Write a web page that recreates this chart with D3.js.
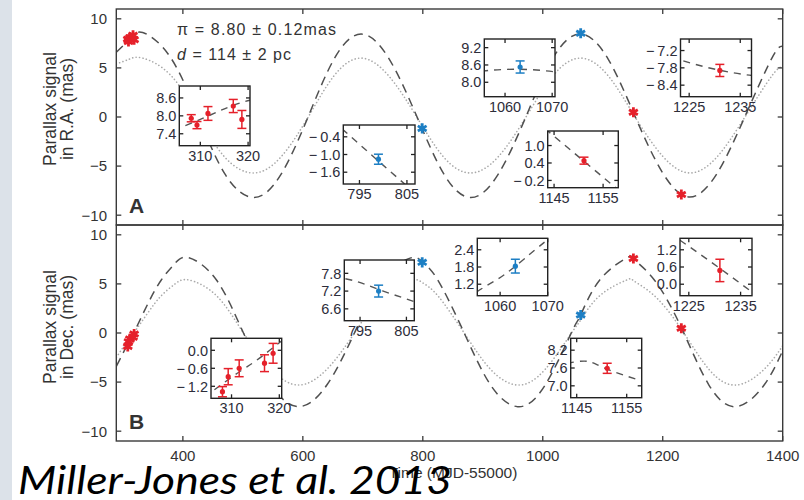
<!DOCTYPE html>
<html><head><meta charset="utf-8">
<script src="https://cdn.jsdelivr.net/npm/d3@7"></script>
<style>
html,body{margin:0;padding:0;background:#fff;}
svg{display:block;}
</style></head><body>
<svg id="chart" width="804" height="500"></svg>
<script>
// ---- Astrometric epochs (MJD - 55000) and measured parallax offsets (mas) ----
const obsMJD     = [308.1, 309.3, 311.6, 316.9, 318.7, 799.0, 1063.2, 1151.1, 1231.0];
const obsRA      = [7.92, 7.69, 8.08, 8.33, 7.88, -1.16, 8.53, 0.48, -7.89];
const obsRAErr   = [0.12, 0.12, 0.23, 0.22, 0.30, 0.17, 0.21, 0.12, 0.21];
const obsDec     = [-1.38, -0.88, -0.60, -0.43, -0.10, 7.20, 1.83, 7.59, 0.48];
const obsDecErr  = [0.17, 0.27, 0.28, 0.28, 0.33, 0.20, 0.24, 0.17, 0.39];
const obsArray   = ["red", "red", "red", "red", "red", "blue", "blue", "red", "red"];

// ---- Parallax model curves ----
const raModelMJD = [289, 311, 333, 379, 425, 470, 518, 563, 608, 652, 697, 743, 789, 835, 880,
                    925, 971, 1017, 1063, 1109, 1154, 1200, 1245, 1290, 1336, 1382, 1400];
const raModelFit = [6.6, 7.95, 8.6, 6.1, 0.2, -5.8, -8.2, -5.9, -0.1, 5.9, 8.45, 6.0, 0.2, -5.8, -8.2,
                    -5.9, -0.1, 6.0, 8.45, 5.9, 0.05, -5.7, -8.15, -5.8, -0.1, 6.0, 7.2];
const raModelAlt = [5.4, 5.9, 6.0, 4.3, 0.1, -4.1, -5.7, -4.1, -0.1, 4.2, 6.0, 4.2, 0.1, -4.1, -5.7,
                    -4.1, -0.1, 4.2, 6.0, 4.2, 0.0, -4.0, -5.7, -4.1, -0.1, 4.2, 5.1];

const decModelMJD = [289, 310, 318, 341, 364, 387, 410, 456, 501, 547, 593, 640, 686, 733, 780, 800,
                     825, 869, 913, 958, 1004, 1049, 1063, 1095, 1140, 1152, 1186, 1231, 1277, 1323, 1369, 1400];
const decModelFit = [-3.4, -0.9, 0.0, 2.9, 5.4, 7.1, 7.67, 5.4, 0.0, -5.3, -7.5, -5.3, 0.0, 5.4, 7.65, 7.2,
                     5.4, 0.0, -5.3, -7.5, -5.3, 0.2, 1.8, 5.4, 7.65, 7.5, 5.4, 0.55, -5.3, -7.5, -5.3, -1.8];
const decModelAlt = [-2.5, -0.6, 0.0, 2.0, 3.8, 5.0, 5.4, 3.8, 0.0, -3.7, -5.3, -3.7, 0.0, 3.8, 5.4, 5.1,
                     3.8, 0.0, -3.7, -5.3, -3.7, 0.1, 1.3, 3.8, 5.4, 5.3, 3.8, 0.4, -3.7, -5.3, -3.7, -1.3];

// ---- Tick values ----
const xTicks = [400, 600, 800, 1000, 1200, 1400];
const yTicks = [-10, -5, 0, 5, 10];
const insetXTicks   = [[310, 320], [795, 805], [1060, 1070], [1145, 1155], [1225, 1235]];
const raInsetYTicks  = [[7.4, 8.0, 8.6], [-1.6, -1.0, -0.4], [8.0, 8.6, 9.2], [-0.2, 0.4, 1.0], [-8.4, -7.8, -7.2]];
const decInsetYTicks = [[-1.2, -0.6, 0.0], [6.6, 7.2, 7.8], [1.2, 1.8, 2.4], [7.0, 7.6, 8.2], [0.0, 0.6, 1.2]];

// ---- Layout ----
const FONT = "'Liberation Sans', Arial, Helvetica, sans-serif";
const COLORS = {red: "#e5202a", blue: "#1d7fc4"};
const plotL = 116.3, plotR = 782.7;
const panels = [
  {key: "ra",  top: 9,   bottom: 225, letter: "A", label: ["Parallax signal", "in R.A. (mas)"], labelY: 109,
   fit: raModelFit, alt: raModelAlt, mjd: raModelMJD, obs: obsRA, err: obsRAErr, yTicksIn: raInsetYTicks,
   insets: [
     {box: [179.3, 86, 70.7, 59.7],  x: [305.6, 320.4],   y: [7.0, 9.0]},
     {box: [343.3, 125, 71.7, 59],   x: [791.6, 806.7],   y: [-2.0, 0.0]},
     {box: [484.3, 39, 70.7, 57.7],  x: [1055.6, 1070.6], y: [7.5, 9.5]},
     {box: [547.7, 131, 70.6, 56.7], x: [1143.7, 1158.1], y: [-0.45, 1.5]},
     {box: [680.5, 39, 71, 57.7],    x: [1223.3, 1237.2], y: [-8.8, -6.8]}]},
  {key: "dec", top: 225, bottom: 441, letter: "B", label: ["Parallax signal", "in Dec. (mas)"], labelY: 327,
   fit: decModelFit, alt: decModelAlt, mjd: decModelMJD, obs: obsDec, err: obsDecErr, yTicksIn: decInsetYTicks,
   insets: [
     {box: [211, 338.3, 70.7, 60],   x: [305.7, 320.5],   y: [-1.6, 0.4]},
     {box: [344.3, 260, 70, 60.7],   x: [791.6, 806.7],   y: [6.2, 8.25]},
     {box: [477.3, 238.3, 70.4, 57.4], x: [1055.2, 1070], y: [0.8, 2.8]},
     {box: [570.7, 338.3, 71, 59.4], x: [1143.8, 1158],   y: [6.6, 8.6]},
     {box: [680, 238.3, 72, 57.4],   x: [1223.3, 1237.2], y: [-0.4, 1.6]}]}
];

const svg = d3.select("#chart");
const defs = svg.append("defs");

// pale side strip of the slide
svg.append("rect").attr("x", 0).attr("y", 0).attr("width", 12).attr("height", 500).attr("fill", "#dce2e9");

const x = d3.scaleLinear().domain([289, 1400]).range([plotL, plotR]);

const fmtInset = v => (v < 0 ? "\u2212\u2009" : "") + Math.abs(v).toFixed(1);
const fmtMain = v => (v < 0 ? "\u2212" : "") + Math.abs(v);

panels.forEach((p, pi) => {
  const y = d3.scaleLinear().domain([-11, 11]).range([p.bottom, p.top]);
  const g = svg.append("g");

  defs.append("clipPath").attr("id", "clip-" + p.key)
    .append("rect").attr("x", plotL).attr("y", p.top).attr("width", plotR - plotL).attr("height", p.bottom - p.top);

  const line = d3.line().x(d => x(d[0])).y(d => y(d[1])).curve(d3.curveNatural);
  const curves = g.append("g").attr("clip-path", `url(#clip-${p.key})`);
  curves.append("path").attr("d", line(p.mjd.map((t, i) => [t, p.alt[i]])))
    .attr("fill", "none").attr("stroke", "#a9a9a9").attr("stroke-width", 1.6)
    .attr("stroke-dasharray", "0.1,3.4").attr("stroke-linecap", "round");
  curves.append("path").attr("d", line(p.mjd.map((t, i) => [t, p.fit[i]])))
    .attr("fill", "none").attr("stroke", "#505050").attr("stroke-width", 1.5)
    .attr("stroke-dasharray", "9,6");

  // observations on the full time range
  const obs = obsMJD.map((t, i) => ({t, v: p.obs[i], e: p.err[i], c: COLORS[obsArray[i]]}));
  const mg = g.append("g");
  mg.selectAll("line.eb").data(obs).join("line")
    .attr("x1", d => x(d.t)).attr("x2", d => x(d.t))
    .attr("y1", d => y(d.v - d.e)).attr("y2", d => y(d.v + d.e))
    .attr("stroke", d => d.c).attr("stroke-width", 1.5);
  const star = d3.symbol().type(d3.symbolAsterisk).size(72);
  mg.selectAll("path.star").data(obs).join("path")
    .attr("transform", d => `translate(${x(d.t)},${y(d.v)})`)
    .attr("d", star()).attr("fill", "none")
    .attr("stroke", d => d.c).attr("stroke-width", 2.8);

  // frame
  g.append("rect").attr("x", plotL).attr("y", p.top).attr("width", plotR - plotL).attr("height", p.bottom - p.top)
    .attr("fill", "none").attr("stroke", "#3a3a3a").attr("stroke-width", 1.4);

  // ticks
  const tk = 5;
  xTicks.forEach(t => {
    g.append("line").attr("x1", x(t)).attr("x2", x(t)).attr("y1", p.top).attr("y2", p.top + tk)
      .attr("stroke", "#3a3a3a").attr("stroke-width", 1.3);
    g.append("line").attr("x1", x(t)).attr("x2", x(t)).attr("y1", p.bottom).attr("y2", p.bottom - tk)
      .attr("stroke", "#3a3a3a").attr("stroke-width", 1.3);
  });
  yTicks.forEach(v => {
    g.append("line").attr("x1", plotL).attr("x2", plotL + tk).attr("y1", y(v)).attr("y2", y(v))
      .attr("stroke", "#3a3a3a").attr("stroke-width", 1.3);
    g.append("line").attr("x1", plotR).attr("x2", plotR - tk).attr("y1", y(v)).attr("y2", y(v))
      .attr("stroke", "#3a3a3a").attr("stroke-width", 1.3);
    g.append("text").attr("x", 107).attr("y", y(v)).attr("dy", "0.36em")
      .attr("text-anchor", "end").attr("font-family", FONT).attr("font-size", 15)
      .attr("fill", "#333").text(fmtMain(v));
  });

  // panel letter
  g.append("text").attr("x", 129).attr("y", p.bottom - 12).attr("font-family", FONT)
    .attr("font-size", 21).attr("font-weight", "bold").attr("fill", "#333").text(p.letter);

  // y-axis title
  const yl = g.append("text").attr("font-family", FONT).attr("font-size", 17.5).attr("fill", "#333")
    .attr("text-anchor", "middle");
  yl.append("tspan").attr("x", 0).attr("y", 0).text(p.label[0]);
  yl.append("tspan").attr("x", 0).attr("y", 17).text(p.label[1]);
  yl.attr("transform", `translate(55.5,${p.labelY}) rotate(-90)`);

  // insets
  p.insets.forEach((ins, k) => {
    const [bx, by, bw, bh] = ins.box;
    const ix = d3.scaleLinear().domain(ins.x).range([bx, bx + bw]);
    const iy = d3.scaleLinear().domain(ins.y).range([by + bh, by]);
    const ig = svg.append("g");
    const cid = `clip-${p.key}-${k}`;
    defs.append("clipPath").attr("id", cid).append("rect").attr("x", bx).attr("y", by).attr("width", bw).attr("height", bh);
    ig.append("rect").attr("x", bx).attr("y", by).attr("width", bw).attr("height", bh).attr("fill", "#fff");
    const il = d3.line().x(d => ix(d[0])).y(d => iy(d[1])).curve(d3.curveNatural);
    ig.append("path").attr("clip-path", `url(#${cid})`)
      .attr("d", il(p.mjd.map((t, i) => [t, p.fit[i]])))
      .attr("fill", "none").attr("stroke", "#555").attr("stroke-width", 1.4).attr("stroke-dasharray", "7,6");
    const pts = obs.filter(d => d.t >= ins.x[0] && d.t <= ins.x[1]);
    const cap = 4.5;
    pts.forEach(d => {
      const px = ix(d.t);
      ig.append("line").attr("x1", px).attr("x2", px).attr("y1", iy(d.v - d.e)).attr("y2", iy(d.v + d.e))
        .attr("stroke", d.c).attr("stroke-width", 1.5);
      [d.v - d.e, d.v + d.e].forEach(v => ig.append("line").attr("x1", px - cap).attr("x2", px + cap)
        .attr("y1", iy(v)).attr("y2", iy(v)).attr("stroke", d.c).attr("stroke-width", 1.5));
      ig.append("circle").attr("cx", px).attr("cy", iy(d.v)).attr("r", 2.6).attr("fill", d.c);
    });
    ig.append("rect").attr("x", bx).attr("y", by).attr("width", bw).attr("height", bh)
      .attr("fill", "none").attr("stroke", "#222").attr("stroke-width", 1.4);
    const itk = 4;
    insetXTicks[k].forEach(t => {
      ig.append("line").attr("x1", ix(t)).attr("x2", ix(t)).attr("y1", by).attr("y2", by + itk).attr("stroke", "#222").attr("stroke-width", 1.3);
      ig.append("line").attr("x1", ix(t)).attr("x2", ix(t)).attr("y1", by + bh).attr("y2", by + bh - itk).attr("stroke", "#222").attr("stroke-width", 1.3);
      ig.append("text").attr("x", ix(t)).attr("y", by + bh + 15).attr("text-anchor", "middle")
        .attr("font-family", FONT).attr("font-size", 14.5).attr("fill", "#2d2d3a").text(t);
    });
    p.yTicksIn[k].forEach(v => {
      ig.append("line").attr("x1", bx).attr("x2", bx + itk).attr("y1", iy(v)).attr("y2", iy(v)).attr("stroke", "#222").attr("stroke-width", 1.3);
      ig.append("line").attr("x1", bx + bw).attr("x2", bx + bw - itk).attr("y1", iy(v)).attr("y2", iy(v)).attr("stroke", "#222").attr("stroke-width", 1.3);
      ig.append("text").attr("x", bx - 3).attr("y", iy(v)).attr("dy", "0.36em").attr("text-anchor", "end")
        .attr("font-family", FONT).attr("font-size", 14.5).attr("fill", "#2d2d3a").text(fmtInset(v));
    });
  });

  if (pi === 1) {
    xTicks.forEach(t => {
      g.append("text").attr("x", x(t)).attr("y", 461).attr("text-anchor", "middle")
        .attr("font-family", FONT).attr("font-size", 15).attr("fill", "#333").text(t);
    });
  }
});

// fit results
const ann = svg.append("g").attr("font-family", FONT).attr("font-size", 16).attr("fill", "#333");
ann.append("text").attr("x", 177).attr("y", 35).attr("textLength", 159).text("\u03c0 = 8.80 \u00b1 0.12mas");
const dl = ann.append("text").attr("x", 177).attr("y", 59.5).attr("textLength", 114);
dl.append("tspan").attr("font-style", "italic").text("d");
dl.append("tspan").text(" = 114 \u00b1 2 pc");

// x-axis title
svg.append("text").attr("x", 453).attr("y", 478).attr("text-anchor", "middle")
  .attr("font-family", FONT).attr("font-size", 15.5).attr("fill", "#333").text("Time (MJD-55000)");

// citation
svg.append("text").attr("x", 18).attr("y", 494)
  .attr("font-family", "Lato, 'Open Sans', sans-serif").attr("font-style", "italic").attr("font-size", 38)
  .attr("textLength", 434).attr("lengthAdjust", "spacingAndGlyphs")
  .attr("fill", "#000").text("Miller-Jones et al. 2013");
</script>
</body></html>
